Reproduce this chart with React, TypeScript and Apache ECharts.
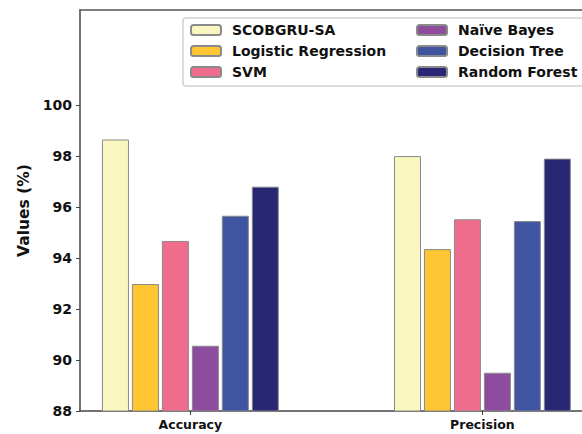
import React, { useEffect, useRef } from "react";
import * as echarts from "echarts";

const categories = ["Accuracy", "Precision"];
const seriesNames = [
  "SCOBGRU-SA",
  "Logistic Regression",
  "SVM",
  "Naïve Bayes",
  "Decision Tree",
  "Random Forest",
];
const scobgru = [98.65, 98.0];
const logistic = [92.98, 94.35];
const svm = [94.67, 95.52];
const naive = [90.56, 89.5];
const decision = [95.66, 95.45];
const forest = [96.8, 97.9];
const yTicks = [88, 90, 92, 94, 96, 98, 100];

const colors = ["#f9f6c0", "#fdc632", "#ef6c8c", "#8e4c9e", "#3f55a2", "#272774"];
const allValues = [scobgru, logistic, svm, naive, decision, forest];

const FONT = "DejaVu Sans";
const X_MIN = -0.378;
const X_MAX = 1.341;

export default function App() {
  const ref = useRef<HTMLDivElement>(null);
  useEffect(() => {
    if (!ref.current) return;
    const chart = echarts.init(ref.current, null, { renderer: "svg" });
    const legendCommon = {
      orient: "vertical" as const,
      itemWidth: 30,
      itemHeight: 10,
      itemGap: 7,
      padding: 0,
      z: 10,
      textStyle: {
        fontFamily: FONT,
        fontWeight: "bold" as const,
        fontSize: 14,
        color: "#111",
        lineHeight: 14,
        padding: [0, 0, 0, 6],
      },
    };
    chart.setOption({
      animation: false,
      backgroundColor: "#fff",
      grid: {
        left: 80,
        top: 10,
        right: 0,
        bottom: 23,
      },
      graphic: [
        {
          type: "rect",
          z: 5,
          shape: { x: 183, y: 18, width: 420, height: 68, r: 3 },
          style: { fill: "rgba(255,255,255,0.85)", stroke: "#d0d0d0", lineWidth: 1.5 },
        },
      ],
      legend: [
        { ...legendCommon, left: 190, top: 23, data: seriesNames.slice(0, 3) },
        { ...legendCommon, left: 416, top: 23, data: seriesNames.slice(3) },
      ],
      xAxis: [
        {
          type: "value",
          min: X_MIN,
          max: X_MAX,
          splitLine: { show: false },
          axisLine: { show: true, onZero: false, lineStyle: { color: "#444", width: 1.5 } },
          axisTick: { show: true, length: 4, customValues: [0, 1], lineStyle: { color: "#444" } },
          axisLabel: {
            customValues: [0, 1],
            formatter: (v: number) => categories[Math.round(v)] ?? "",
            fontFamily: FONT,
            fontWeight: "bold",
            fontSize: 12.5,
            color: "#111",
            margin: 7,
          },
        },
        {
          type: "value",
          position: "top",
          min: X_MIN,
          max: X_MAX,
          splitLine: { show: false },
          axisLine: { show: true, onZero: false, lineStyle: { color: "#555", width: 1.5 } },
          axisTick: { show: false },
          axisLabel: { show: false },
        },
      ],
      yAxis: {
        type: "value",
        min: 88,
        max: 103.73,
        interval: 2,
        name: "Values (%)",
        nameLocation: "middle",
        nameGap: 48,
        nameTextStyle: { fontFamily: FONT, fontWeight: "bold", fontSize: 15.5, color: "#111" },
        splitLine: { show: false },
        axisLine: { show: true, onZero: false, lineStyle: { color: "#444", width: 1.5 } },
        axisTick: { show: true, length: 4, customValues: yTicks, lineStyle: { color: "#444" } },
        axisLabel: {
          customValues: yTicks,
          fontFamily: FONT,
          fontWeight: "bold",
          fontSize: 14,
          color: "#111",
          margin: 8,
        },
      },
      series: allValues.map((vals, si) => ({
        type: "bar",
        name: seriesNames[si],
        xAxisIndex: 0,
        data: vals.map((v, i) => [i, v]),
        barWidth: 27,
        barGap: "11%",
        itemStyle: { color: colors[si], borderColor: "#8a8a8a", borderWidth: 1 },
      })),
    });
    return () => chart.dispose();
  }, []);
  return (
    <div
      ref={ref}
      style={{ position: "fixed", left: 0, top: 0, width: 582, height: 434 }}
    />
  );
}
